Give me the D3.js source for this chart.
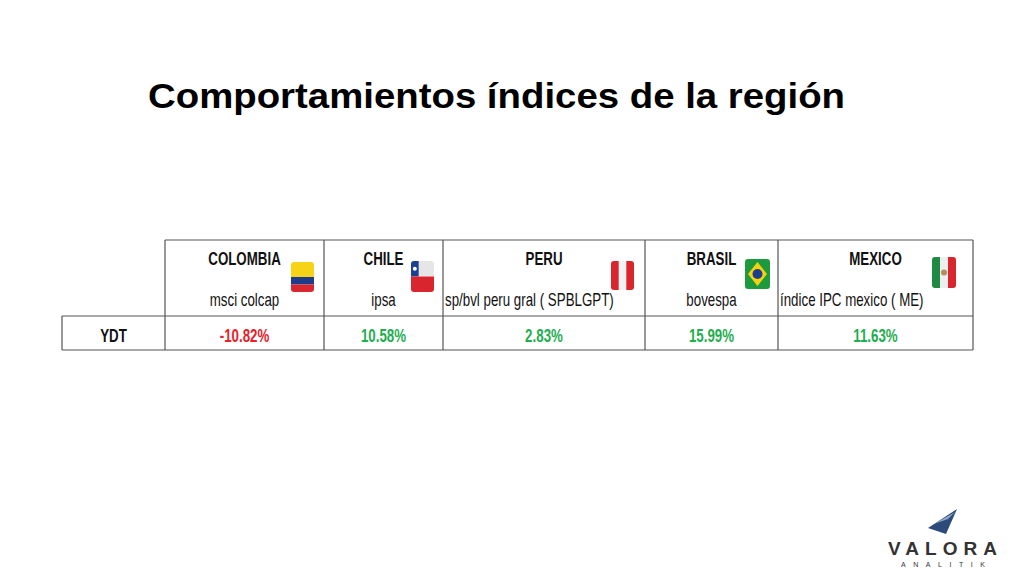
<!DOCTYPE html><html><head><meta charset="utf-8"><script src="https://cdn.jsdelivr.net/npm/d3@7"></script>
<style>body{margin:0;background:#fff}</style></head><body><svg id="c" width="1024" height="575"></svg>
<script>
const countries=["COLOMBIA","CHILE","PERU","BRASIL","MEXICO"];
const indices=["msci colcap","ipsa","sp/bvl peru gral ( SPBLGPT)","bovespa","índice IPC  mexico ( ME)"];
const ydt=[-10.82,10.58,2.83,15.99,11.63];
const rowLabel="YDT";
const edges=[165,324,443,645,778,973];
const svg=d3.select("#c");
const F="'Liberation Sans',Arial,sans-serif";
svg.append("text").attr("x",148).attr("y",108).attr("textLength",697).attr("lengthAdjust","spacingAndGlyphs")
 .attr("font-family",F).attr("font-weight","bold").attr("font-size",35).attr("fill","#000")
 .text("Comportamientos índices de la región");
const y0=240,y1=316,y2=350,xL=62;
const x=i=>edges[i];
const g=svg.append("g").attr("stroke","#555").attr("stroke-width",1.2).attr("fill","none");
g.append("line").attr("x1",x(0)).attr("x2",x(5)).attr("y1",y0).attr("y2",y0);
g.append("line").attr("x1",xL).attr("x2",x(5)).attr("y1",y1).attr("y2",y1);
g.append("line").attr("x1",xL).attr("x2",x(5)).attr("y1",y2).attr("y2",y2);
g.append("line").attr("x1",xL).attr("x2",xL).attr("y1",y1).attr("y2",y2);
edges.forEach(e=>g.append("line").attr("x1",e).attr("x2",e).attr("y1",y0).attr("y2",y2));
function txt(px,py,s,opt){
 const t=svg.append("text").attr("transform","translate("+px+","+py+") scale(0.74,1)")
  .attr("font-family",F).attr("font-size",opt.size||18).attr("font-weight",opt.bold?"bold":"normal")
  .attr("fill",opt.fill||"#111").attr("text-anchor",opt.anchor||"middle").text(s);
 return t;
}
txt((xL+x(0))/2,342,rowLabel,{bold:1});
const fmt=v=>v.toFixed(2)+"%";
countries.forEach((c,i)=>{
 const cx=(x(i)+x(i+1))/2;
 txt(cx,265,c,{bold:1});
 if(i==2||i==4) txt(x(i)+2,306,indices[i],{anchor:"start"}); else txt(cx,306,indices[i],{});
 txt(cx,342,fmt(ydt[i]),{bold:1,fill:ydt[i]<0?"#e8202a":"#1fae4f"});
});
function flag(i,fx,fy,w,h){
 const f=svg.append("g").attr("transform","translate("+fx+","+fy+")");
 const clip="cl"+i;
 f.append("clipPath").attr("id",clip).append("rect").attr("width",w).attr("height",h).attr("rx",3);
 const k=f.append("g").attr("clip-path","url(#"+clip+")");
 if(i==0){k.append("rect").attr("width",w).attr("height",h/2).attr("fill","#f7d317");
  k.append("rect").attr("y",h/2).attr("width",w).attr("height",h/4).attr("fill","#1f3b8c");
  k.append("rect").attr("y",h*3/4).attr("width",w).attr("height",h/4).attr("fill","#d8282f");}
 if(i==1){k.append("rect").attr("width",w).attr("height",h/2).attr("fill","#e6e6e6");
  k.append("rect").attr("width",w/3).attr("height",h/2).attr("fill","#1c3f94");
  k.append("circle").attr("cx",w/6).attr("cy",h/4).attr("r",2).attr("fill","#fff");
  k.append("rect").attr("y",h/2).attr("width",w).attr("height",h/2).attr("fill","#d9262e");}
 if(i==2){k.append("rect").attr("width",w).attr("height",h).attr("fill","#f2f2f2");
  k.append("rect").attr("width",w/3).attr("height",h).attr("fill","#d9262e");
  k.append("rect").attr("x",w*2/3).attr("width",w/3).attr("height",h).attr("fill","#d9262e");}
 if(i==3){k.append("rect").attr("width",w).attr("height",h).attr("fill","#1e9a3e");
  k.append("path").attr("d","M"+w/2+",3L"+(w-3)+","+h/2+"L"+w/2+","+(h-3)+"L3,"+h/2+"Z").attr("fill","#f5d20f");
  k.append("circle").attr("cx",w/2).attr("cy",h/2).attr("r",w/5).attr("fill","#1e3d8f");}
 if(i==4){k.append("rect").attr("width",w).attr("height",h).attr("fill","#eeeeee");
  k.append("rect").attr("width",w/3).attr("height",h).attr("fill","#1e8a44");
  k.append("rect").attr("x",w*2/3).attr("width",w/3).attr("height",h).attr("fill","#d9262e");
  k.append("circle").attr("cx",w/2).attr("cy",h/2).attr("r",3).attr("fill","#b98a5a");}
}
flag(0,291,262,23,30);flag(1,411,261,23,31);flag(2,611,261,23,29);flag(3,745,259,25,30);flag(4,932,257,24,31);
const lg=svg.append("g");
lg.append("path").attr("d","M928,528L957,509L946,534Z").attr("fill","#2c4a7a");
lg.append("path").attr("d","M934,524L955,512L948,519Z").attr("fill","#8fa6c8");
lg.append("text").attr("x",888).attr("y",555).attr("textLength",109).attr("lengthAdjust","spacing").attr("font-family",F).attr("font-weight","bold").attr("font-size",19).attr("fill","#333").text("VALORA");
lg.append("text").attr("x",901).attr("y",567).attr("textLength",84).attr("lengthAdjust","spacing").attr("font-family",F).attr("font-size",7).attr("fill","#333").text("ANALITIK");
</script></body></html>
